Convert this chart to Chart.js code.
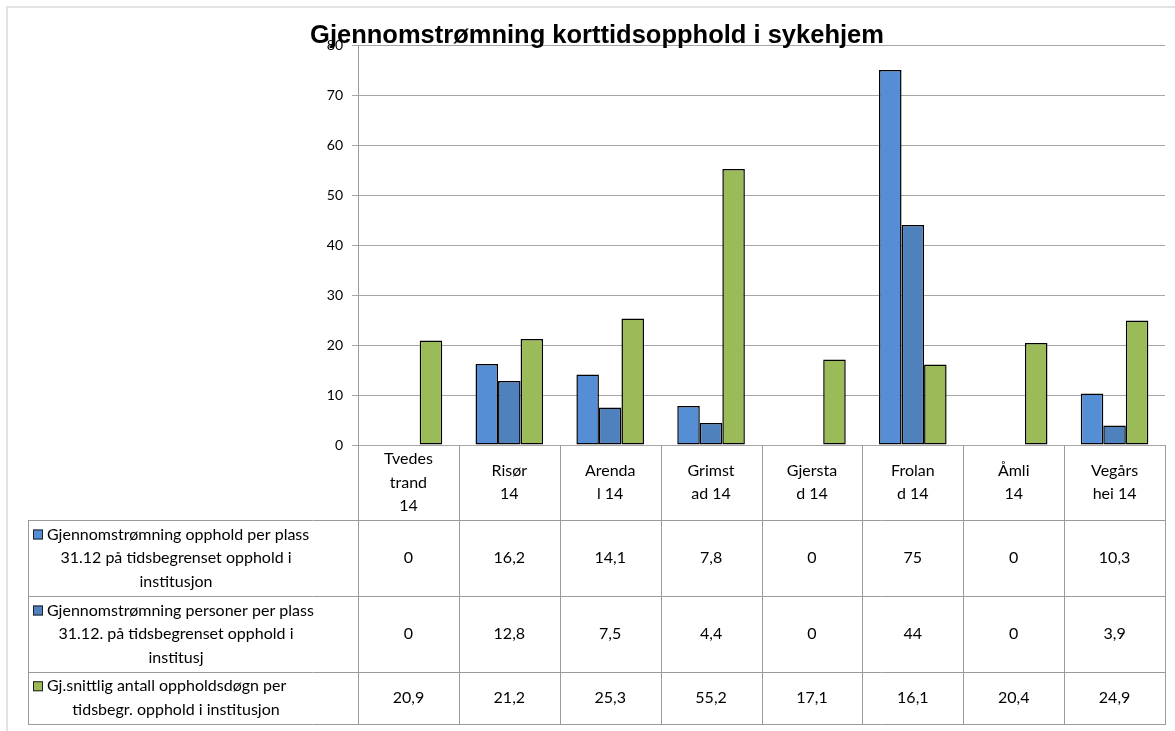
<!DOCTYPE html>
<html>
<head>
<meta charset="utf-8">
<script src="https://cdn.jsdelivr.net/npm/chart.js@4.4.0/dist/chart.umd.min.js"></script>
<style>
    html, body { margin: 0; padding: 0; background: #fff; }
    #wrap { width: 1175px; height: 731px; }
</style>
</head>
<body>
<div id="wrap"><canvas id="chart" width="1175" height="731"></canvas></div>
<script>
const chartTitle = "Gjennomstrømning korttidsopphold i sykehjem";

// kategorier (delt over flere linjer som i tabellen)
const categories = [
    ["Tvedes", "trand", "14"],
    ["Risør", "14"],
    ["Arenda", "l 14"],
    ["Grimst", "ad 14"],
    ["Gjersta", "d 14"],
    ["Frolan", "d 14"],
    ["Åmli", "14"],
    ["Vegårs", "hei 14"]
];

const seriesLabels = [
    ["Gjennomstrømning opphold per plass", "31.12 på tidsbegrenset opphold i", "institusjon"],
    ["Gjennomstrømning personer per plass", "31.12. på tidsbegrenset opphold i", "institusj"],
    ["Gj.snittlig antall oppholdsdøgn per", "tidsbegr. opphold i institusjon"]
];

const oppholdPerPlass = [0, 16.2, 14.1, 7.8, 0, 75, 0, 10.3];
const personerPerPlass = [0, 12.8, 7.5, 4.4, 0, 44, 0, 3.9];
const snittDogn = [20.9, 21.2, 25.3, 55.2, 17.1, 16.1, 20.4, 24.9];

const yTicks = [0, 10, 20, 30, 40, 50, 60, 70, 80];

const colors = ['#558ed5', '#4f81bd', '#9bbb59'];
const allSeries = [oppholdPerPlass, personerPerPlass, snittDogn];

const FONT = 'Lato, "Open Sans", sans-serif';

function fmt(v) {
    return String(v).replace('.', ',');
}

// tegner tittel, ramme og datatabellen under grafen
const tablePlugin = {
    id: 'dataTable',
    afterDraw(chart) {
        const ctx = chart.ctx;
        const xs = chart.scales.x;
        const left = chart.chartArea.left;
        const right = chart.chartArea.right + 1;
        const bottom = chart.chartArea.bottom;
        const n = categories.length;
        const colW = (chart.chartArea.right - chart.chartArea.left) / n;
        const rowTops = [bottom, 520, 596, 672, 724];
        const tableLeft = 28;

        ctx.save();

        // ramme
        ctx.strokeStyle = '#e3e3e3';
        ctx.lineWidth = 2;
        ctx.beginPath();
        ctx.moveTo(7, 731);
        ctx.lineTo(7, 7);
        ctx.lineTo(1175, 7);
        ctx.stroke();

        // tabell-linjer
        ctx.strokeStyle = '#9a9a9a';
        ctx.lineWidth = 1;
        ctx.beginPath();
        for (let i = 0; i <= n; i++) {
            const x = Math.round(left + i * colW) + 0.5;
            ctx.moveTo(x, bottom);
            ctx.lineTo(x, rowTops[4]);
        }
        for (let r = 1; r < rowTops.length; r++) {
            ctx.moveTo(tableLeft, rowTops[r] + 0.5);
            ctx.lineTo(right, rowTops[r] + 0.5);
        }
        ctx.moveTo(tableLeft + 0.5, rowTops[1]);
        ctx.lineTo(tableLeft + 0.5, rowTops[4]);
        ctx.stroke();

        ctx.fillStyle = '#000';
        ctx.font = '16px ' + FONT;
        ctx.textAlign = 'center';
        ctx.textBaseline = 'middle';
        const lh = 23.5;

        // kategori-overskrifter
        categories.forEach((lines, i) => {
            const cx = xs.getPixelForValue(i);
            const cy = (rowTops[0] + rowTops[1]) / 2;
            const y0 = cy - (lines.length - 1) * lh / 2;
            lines.forEach((t, k) => ctx.fillText(t, cx, y0 + k * lh));
        });

        // serierader
        allSeries.forEach((vals, s) => {
            const top = rowTops[s + 1];
            const bot = rowTops[s + 2];
            const cy = (top + bot) / 2;
            vals.forEach((v, i) => {
                ctx.fillText(fmt(v), xs.getPixelForValue(i), cy);
            });

            const lines = seriesLabels[s];
            const y0 = cy - (lines.length - 1) * lh / 2;
            const lcx = 176;
            const sx = 33;
            lines.forEach((t, k) => {
                if (k === 0) {
                    ctx.fillStyle = colors[s];
                    ctx.fillRect(sx, y0 - 5, 10, 10);
                    ctx.strokeStyle = '#222';
                    ctx.strokeRect(sx + 0.5, y0 - 4.5, 9, 9);
                    ctx.fillStyle = '#000';
                    ctx.textAlign = 'left';
                    ctx.fillText(t, sx + 14, y0);
                    ctx.textAlign = 'center';
                } else {
                    ctx.fillText(t, lcx, y0 + k * lh);
                }
            });
        });

        // tittel
        ctx.font = 'bold 25.5px "Liberation Sans", Arial, sans-serif';
        ctx.textBaseline = 'alphabetic';
        ctx.fillText(chartTitle, 597, 43);

        ctx.restore();
    }
};

const ctx = document.getElementById('chart');
new Chart(ctx, {
    type: 'bar',
    data: {
        labels: categories.map(c => c.join(' ')),
        datasets: allSeries.map((vals, s) => ({
            label: seriesLabels[s].join(' '),
            data: vals,
            backgroundColor: colors[s],
            borderColor: '#000',
            borderWidth: 1.5,
            borderSkipped: false,
            categoryPercentage: 0.67,
            barPercentage: 1
        }))
    },
    options: {
        responsive: false,
        animation: false,
        devicePixelRatio: 1,
        layout: {
            padding: { left: 0, right: 10, top: 45, bottom: 286 }
        },
        plugins: {
            legend: { display: false },
            title: { display: false },
            tooltip: { enabled: false }
        },
        scales: {
            x: {
                display: false
            },
            y: {
                min: 0,
                max: 80,
                afterBuildTicks(scale) {
                    scale.ticks = yTicks.map(v => ({ value: v }));
                },
                afterFit(scale) {
                    scale.width = 358;
                },
                grid: {
                    color: '#a6a6a6',
                    tickLength: 6
                },
                border: { color: '#9a9a9a' },
                ticks: {
                    color: '#000',
                    padding: 9,
                    font: { family: FONT, size: 14 }
                }
            }
        }
    },
    plugins: [tablePlugin]
});
</script>
</body>
</html>
